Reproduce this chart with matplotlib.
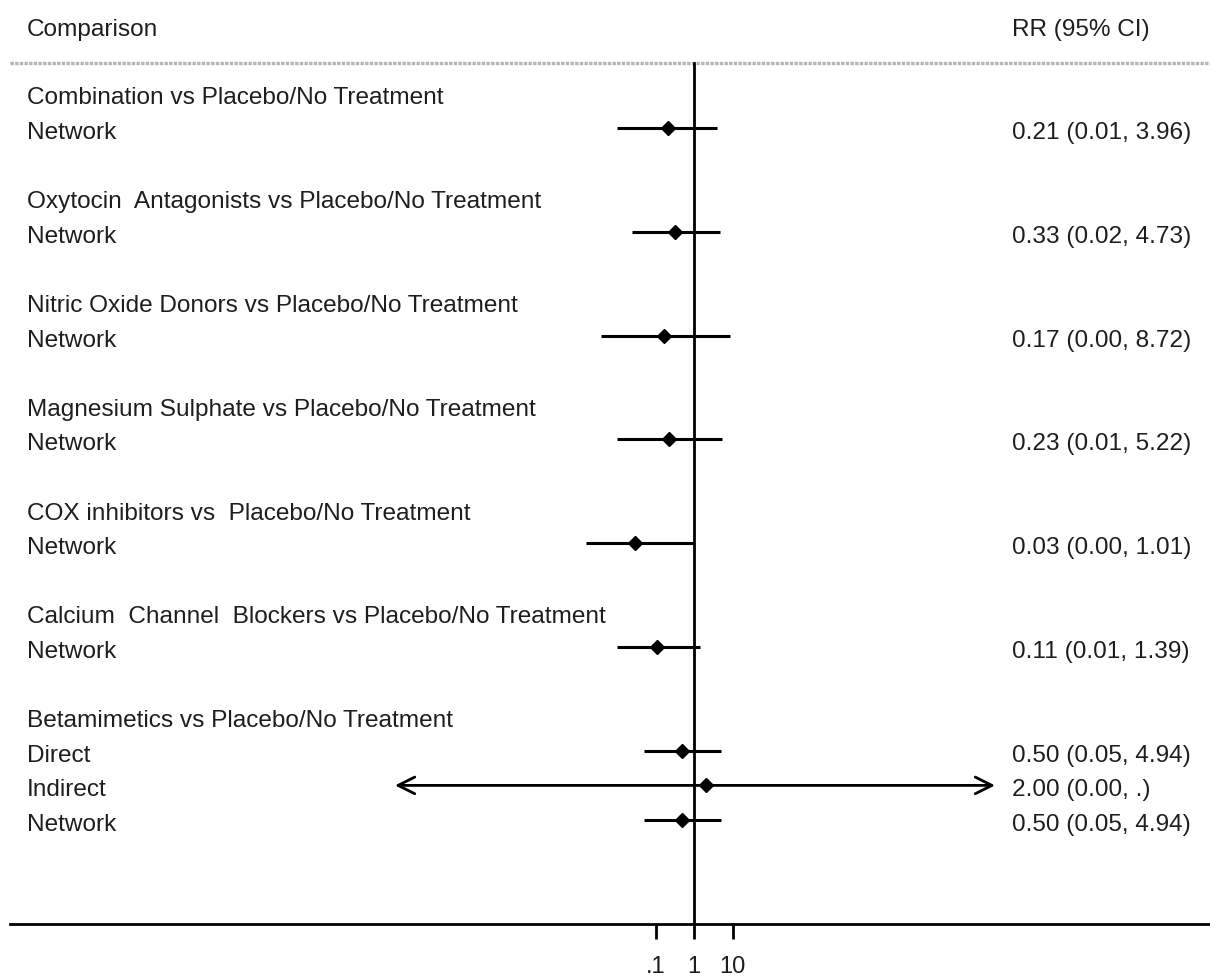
import matplotlib
matplotlib.use("Agg")
import matplotlib.pyplot as plt
import matplotlib.transforms as mtransforms
import numpy as np

plt.rcParams['font.family'] = ['Liberation Sans', 'DejaVu Sans']

# ---- data ----
groups = [
    "Combination vs Placebo/No Treatment",
    "Oxytocin  Antagonists vs Placebo/No Treatment",
    "Nitric Oxide Donors vs Placebo/No Treatment",
    "Magnesium Sulphate vs Placebo/No Treatment",
    "COX inhibitors vs  Placebo/No Treatment",
    "Calcium  Channel  Blockers vs Placebo/No Treatment",
    "Betamimetics vs Placebo/No Treatment",
]
row_labels = [
    ["Network"], ["Network"], ["Network"], ["Network"], ["Network"], ["Network"],
    ["Direct", "Indirect", "Network"],
]
rr = [[0.21], [0.33], [0.17], [0.23], [0.03], [0.11], [0.50, 2.00, 0.50]]
lo = [[0.01], [0.024], [0.0038], [0.01], [0.0016], [0.01], [0.05, None, 0.05]]
hi = [[3.96], [4.73], [8.72], [5.22], [1.01], [1.39], [4.94, None, 4.94]]
ci_text = [
    ["0.21 (0.01, 3.96)"], ["0.33 (0.02, 4.73)"], ["0.17 (0.00, 8.72)"],
    ["0.23 (0.01, 5.22)"], ["0.03 (0.00, 1.01)"], ["0.11 (0.01, 1.39)"],
    ["0.50 (0.05, 4.94)", "2.00 (0.00, .)", "0.50 (0.05, 4.94)"],
]
xticks = [0.1, 1, 10]
xticklabels = [".1", "1", "10"]

# ---- layout ----
W, H = 1210, 979
fig = plt.figure(figsize=(W / 100, H / 100), dpi=100)
ax_left, ax_right, ax_bottom_px = 10, 1210, 925
ax = fig.add_axes([ax_left / W, (H - ax_bottom_px) / H, (ax_right - ax_left) / W, ax_bottom_px / H])

row0_px, row_step = 94.4, 34.6
decade_px, one_px = 38.5, 694.0
ax.set_xscale('log')
ax.set_xlim(10 ** ((ax_left - one_px) / decade_px), 10 ** ((ax_right - one_px) / decade_px))
y_bottom = (ax_bottom_px - row0_px) / row_step
ax.set_ylim(y_bottom, -row0_px / row_step)

fs = 17.6
tcol = '#1e1e1e'
trans = mtransforms.blended_transform_factory(ax.transAxes, ax.transData)
ttrans = mtransforms.offset_copy(trans, fig=fig, x=0, y=-10 * 72 / 100, units='points')
xl = (27 - ax_left) / (ax_right - ax_left)
xr = (1012 - ax_left) / (ax_right - ax_left)

hdr_y = (26 - row0_px) / row_step
sep_y = (64 - row0_px) / row_step
ax.text(xl, hdr_y, "Comparison", transform=ttrans, ha='left', va='baseline', fontsize=fs, color=tcol)
ax.text(xr, hdr_y, "RR (95% CI)", transform=ttrans, ha='left', va='baseline', fontsize=fs, color=tcol)
ax.plot([0, 1], [sep_y, sep_y], transform=trans, color='#b4b4b4', lw=2.4, ls=(0, (1, 0.4)), clip_on=False)

arrow_lo, arrow_hi = 10 ** (-299 / decade_px), 10 ** (301 / decade_px)

r = 0
for g, labels, rs, ls_, hs, ts in zip(groups, row_labels, rr, lo, hi, ci_text):
    ax.text(xl, r, g, transform=ttrans, ha='left', va='baseline', fontsize=fs, color=tcol)
    r += 1
    for lab, v, l, h, t in zip(labels, rs, ls_, hs, ts):
        ax.text(xl, r, lab, transform=ttrans, ha='left', va='baseline', fontsize=fs, color=tcol)
        ax.text(xr, r, t, transform=ttrans, ha='left', va='baseline', fontsize=fs, color=tcol)
        if l is None:
            ax.annotate('', xy=(arrow_hi, r), xytext=(arrow_lo, r),
                        arrowprops=dict(arrowstyle='<->', lw=2.0, color='black',
                                        mutation_scale=30, shrinkA=0, shrinkB=0))
        else:
            ax.plot([l, h], [r, r], color='black', lw=2.2, solid_capstyle='butt')
        ax.plot([v], [r], marker='D', ms=7, color='black', zorder=5)
        r += 1
    r += 1

# vertical reference line at 1
ax.plot([1, 1], [sep_y, y_bottom], color='black', lw=2.0)

for s in ['top', 'left', 'right']:
    ax.spines[s].set_visible(False)
ax.spines['bottom'].set_linewidth(2.0)
ax.set_yticks([])
ax.set_xticks(xticks)
ax.set_xticklabels(xticklabels, fontsize=fs - 0.5, color=tcol)
ax.xaxis.set_minor_locator(matplotlib.ticker.NullLocator())
ax.tick_params(axis='x', length=11, width=2.0, pad=11)

fig.savefig("out.png", dpi=100)
